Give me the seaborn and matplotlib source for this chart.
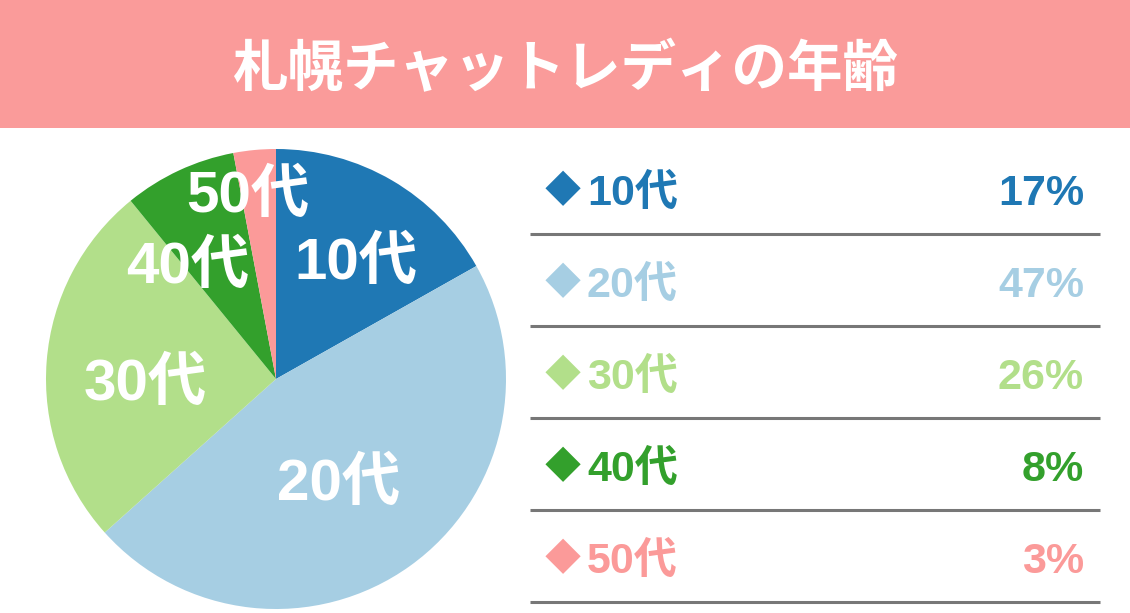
import numpy as np
import matplotlib
matplotlib.use('Agg')
import matplotlib.pyplot as plt
import seaborn as sns

# data
ages = ['10代', '20代', '30代', '40代', '50代']
shares = [17, 47, 26, 8, 3]
title = '札幌チャットレディの年齢'

sns.set_theme(style='white')
plt.rcParams['font.family'] = ['Noto Sans CJK JP', 'DejaVu Sans']

pal = sns.color_palette('Paired')
colors = [pal[1], pal[0], pal[2], pal[3], pal[4]]
banner_color = '#fa9b9a'
num_font = ['Liberation Sans', 'Noto Sans CJK JP']

W, H = 1130, 613
fig = plt.figure(figsize=(W / 100, H / 100), dpi=100)

# title banner
bh = 128
ax_t = fig.add_axes([0, 1 - bh / H, 1, bh / H])
ax_t.set_facecolor(banner_color)
ax_t.set_xticks([])
ax_t.set_yticks([])
for s in ax_t.spines.values():
    s.set_visible(False)
ax_t.text(0.5, 0.45, title, ha='center', va='center', color='white',
          fontsize=40, fontweight='bold', transform=ax_t.transAxes)

# pie
cx, cy, r = 276, 379, 230
ax_p = fig.add_axes([(cx - r) / W, (H - cy - r) / H, 2 * r / W, 2 * r / H])
wedges, texts = ax_p.pie(shares, colors=colors, startangle=90, counterclock=False,
                         labels=ages, labeldistance=0.6,
                         wedgeprops=dict(linewidth=0))
ax_p.set_xlim(-1, 1)
ax_p.set_ylim(-1, 1)
ax_p.set_aspect('equal')
ax_p.axis('off')

# label placement: distance from centre and small angular nudge
label_r = [0.63, 0.51, 0.57, 0.64, 0.83]
label_nudge = [-3, -3.5, 4, 12, 3]
for w, t, lr, dn in zip(wedges, texts, label_r, label_nudge):
    ang = np.deg2rad((w.theta1 + w.theta2) / 2 + dn)
    t.set_position((lr * np.cos(ang), lr * np.sin(ang) - 0.027))
    t.set_ha('center')
    t.set_va('center')
    t.set_color('white')
    t.set_fontsize(42)
    t.set_fontweight('bold')
    t.set_family(num_font)

# legend table on the right
ax_l = fig.add_axes([0, 0, 1, 1])
ax_l.set_xlim(0, W)
ax_l.set_ylim(H, 0)
ax_l.axis('off')
ax_l.patch.set_alpha(0)

row0, step = 191, 92
for i, (age, pct, c) in enumerate(zip(ages, shares, colors)):
    y = row0 + i * step
    ax_l.text(563, y + 1, '◆', ha='center', va='center', color=c,
              fontsize=26, fontweight='bold')
    ax_l.text(587, y + 3, age, ha='left', va='center', color=c,
              fontsize=31, fontweight='bold', family=num_font)
    ax_l.text(1084, y + 3, f'{pct}%', ha='right', va='center', color=c,
              fontsize=31, fontweight='bold', family=num_font)
    ax_l.hlines(y + 43, 530, 1100, color='#777777', linewidth=2.2)

fig.savefig('out.png', dpi=100)
